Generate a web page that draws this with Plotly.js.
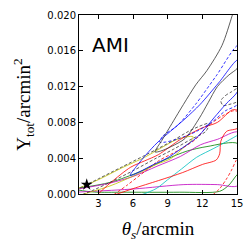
<!DOCTYPE html>
<html>
<head>
<meta charset="utf-8">
<script src="https://cdn.plot.ly/plotly-3.0.1.min.js"></script>
<style>html,body{margin:0;padding:0;background:#fff;}#chart{width:251px;height:249px;}</style>
</head>
<body>
<div id="chart"></div>
<script>
// ---- data (theta_s [arcmin], Y_tot [arcmin^2]) ----
const xTicks = [3, 6, 9, 12, 15];
const yTicks = [0.000, 0.004, 0.008, 0.012, 0.016, 0.020];

// black solid contour
const kSolidX = [7.9, 8.5, 9.1, 10.36, 11.43, 12.4, 13.7, 14.6, 15.2, 15.2, 15.0, 14.3, 13.3, 12.5, 11.75, 10.5, 9.3, 8.4, 7.9];
const kSolidY = [0.0047, 0.0060, 0.0073, 0.0100, 0.0122, 0.0138, 0.0166, 0.0200, 0.0225, 0.0145, 0.0140, 0.0133, 0.0120, 0.0102, 0.0085, 0.0062, 0.0053, 0.0048, 0.0047];
// black dashed contours
const kDashX = [1.0, 3.0, 5.0, 7.0, 8.2, 9.5, 10.8, 12.0, 12.6, 12.3, 11.0, 9.5, 8.0, 6.0, 4.0, 2.5, 1.0];
const kDashY = [0.0004, 0.0017, 0.0030, 0.0043, 0.0051, 0.0060, 0.0070, 0.0077, 0.0079, 0.0070, 0.0061, 0.0050, 0.0040, 0.0026, 0.0013, 0.0004, -0.0004];
const kDash2X = [13.6, 14.0, 14.5, 15.1, 15.1, 14.3, 13.8, 13.6];
const kDash2Y = [0.0104, 0.0110, 0.0114, 0.0118, 0.0104, 0.0100, 0.0099, 0.0104];
// blue solid contour
const bSolidX = [5.75, 6.3, 7.2, 8.07, 9.23, 10.5, 11.8, 13.4, 15.1, 15.1, 14.0, 13.0, 11.6, 10.1, 8.94, 7.78, 6.6, 5.9, 5.75];
const bSolidY = [0.0021, 0.0031, 0.0045, 0.0057, 0.0070, 0.0084, 0.0100, 0.0124, 0.0150, 0.0116, 0.0100, 0.0085, 0.0064, 0.0050, 0.0040, 0.0033, 0.0025, 0.0021, 0.0021];
// blue dashed contour
const bDashX = [8.3, 8.6, 9.8, 11.4, 13.2, 15.1, 15.1, 14.0, 12.8, 11.5, 10.0, 8.8, 8.3];
const bDashY = [0.0058, 0.0065, 0.0076, 0.0100, 0.0132, 0.0166, 0.0101, 0.0093, 0.0080, 0.0070, 0.0062, 0.0058, 0.0058];
// yellow contour
const ySolidX = [1.0, 3.0, 5.0, 7.0, 8.5, 9.8, 10.7, 11.2, 11.0, 10.4, 9.8, 9.2, 8.0, 6.0, 4.0, 2.0, 1.0];
const ySolidY = [0.0005, 0.0016, 0.0029, 0.0041, 0.0052, 0.0061, 0.0064, 0.0064, 0.0059, 0.0052, 0.0045, 0.0039, 0.0033, 0.0020, 0.0009, 0.0001, -0.0003];
// green contour
const gSolidX = [1.0, 4.02, 6.6, 8.9, 10.68, 12.4, 15.1, 15.1, 14.9, 14.3, 13.5, 10.0, 5.0, 2.86, 2.0, 1.0];
const gSolidY = [0.0006, 0.0013, 0.0025, 0.0039, 0.0048, 0.0053, 0.0056, 0.0023, 0.0020, 0.0010, 0.0003, 0.0002, 0.0002, 0.0002, 0.0003, 0.0005];
// magenta contour
const mSolidX = [1.0, 4.02, 6.04, 8.07, 10.1, 11.84, 13.29, 15.1, 15.1, 13.3, 10.4, 6.04, 1.0];
const mSolidY = [0.0005, 0.00123, 0.00198, 0.0031, 0.0042, 0.0055, 0.0061, 0.0069, 0.00097, 0.00105, 0.00105, 0.00056, 0.0002];
// cyan contour (visible edge)
const cSolidX = [6.5, 8.0, 9.0, 10.2, 11.5, 13.0, 14.0, 15.1];
const cSolidY = [-0.0002, 0.0006, 0.0016, 0.0028, 0.0041, 0.0051, 0.0058, 0.0066];
// red solid contour
const rSolidX = [2.9, 4.0, 5.8, 7.0, 8.2, 10.1, 12.0, 13.3, 14.6, 15.1, 15.1, 14.1, 13.6, 13.5, 13.2, 12.0, 10.3, 8.2, 6.0, 4.4];
const rSolidY = [-0.0001, 0.0012, 0.0030, 0.0037, 0.0044, 0.0061, 0.0074, 0.0080, 0.0094, 0.0093, 0.0074, 0.0070, 0.0059, 0.0045, 0.0038, 0.0033, 0.0024, 0.0015, 0.0006, -0.0001];
// red dashed contour pieces
const rDashX = [4.3, 5.5, 7.0, 8.2, 10.1, 11.5, 12.3, 13.7, 14.7, 15.1];
const rDashY = [-0.0001, 0.0010, 0.0025, 0.0037, 0.0050, 0.0062, 0.0074, 0.0087, 0.0093, 0.0092];
const rDash2X = [12.9, 13.5, 14.05, 14.5, 14.9, 15.1];
const rDash2Y = [-0.0001, 0.0006, 0.0016, 0.0026, 0.0037, 0.0041];
// marked point (star)
const starX = [1.99];
const starY = [0.00105];

const label = 'AMI';

function line(x, y, color, dash) {
  return {
    x: x, y: y, type: 'scatter', mode: 'lines', hoverinfo: 'skip',
    line: {color: color, width: 0.8, shape: 'spline', smoothing: 0.8, dash: dash || 'solid'}
  };
}
const D = '3px,2px';
const traces = [
  line(gSolidX, gSolidY, '#008000'),
  line(mSolidX, mSolidY, '#bf00bf'),
  line(cSolidX, cSolidY, '#00bfbf'),
  line(ySolidX, ySolidY, '#bfbf00'),
  line(rSolidX, rSolidY, '#ff0000'),
  line(rDashX, rDashY, '#ff0000', D),
  line(rDash2X, rDash2Y, '#ff0000', D),
  line(kDashX, kDashY, '#333333', D),
  line(kDash2X, kDash2Y, '#333333', D),
  line(bSolidX, bSolidY, '#0000ff'),
  line(bDashX, bDashY, '#0000ff', D),
  line(kSolidX, kSolidY, '#333333'),
  {x: starX, y: starY, type: 'scatter', mode: 'markers', hoverinfo: 'skip',
   marker: {symbol: 'star', size: 9, color: '#000'}, cliponaxis: false}
];

const axisCommon = {
  showline: true, linecolor: '#000', linewidth: 1, mirror: 'ticks',
  ticks: 'inside', ticklen: 4, tickwidth: 1, tickcolor: '#000',
  showgrid: false, zeroline: false,
  tickfont: {family: 'DejaVu Sans', size: 10, color: '#000'}
};
const layout = {
  width: 251, height: 249,
  margin: {l: 79, r: 14, t: 15, b: 55},
  paper_bgcolor: '#fff', plot_bgcolor: '#fff',
  showlegend: false,
  xaxis: Object.assign({}, axisCommon, {
    range: [1.32, 15], tickvals: xTicks, ticktext: xTicks.map(String),
    title: {text: '<i>θ</i><sub><i>s</i></sub>/arcmin', font: {family: 'Liberation Serif', size: 19, color: '#000'}, standoff: 13}
  }),
  yaxis: Object.assign({}, axisCommon, {
    range: [0, 0.020], tickvals: yTicks, ticktext: yTicks.map(v => v.toFixed(3)),
    title: {text: 'Y<sub>tot</sub>/arcmin<sup>2</sup>', font: {family: 'Liberation Serif', size: 19, color: '#000'}, standoff: 11}
  }),
  annotations: [{
    text: label, xref: 'paper', yref: 'paper', x: 0.197, y: 0.833,
    xanchor: 'center', yanchor: 'middle', showarrow: false,
    font: {family: 'DejaVu Sans', size: 20, color: '#000'}
  }]
};
Plotly.newPlot('chart', traces, layout, {staticPlot: true, displayModeBar: false});
</script>
</body>
</html>
